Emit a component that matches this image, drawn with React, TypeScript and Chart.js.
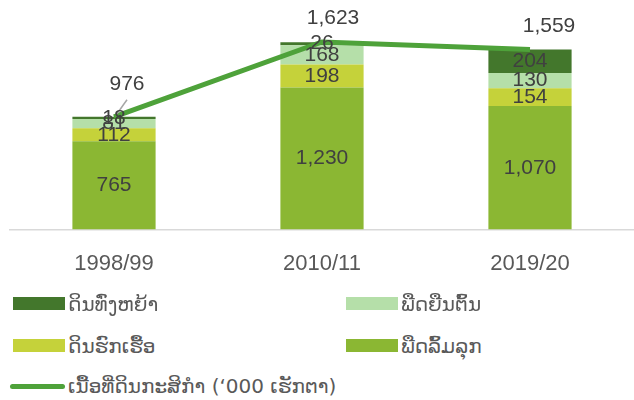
import React, { useEffect, useRef } from "react";
import { Chart, registerables } from "chart.js";

Chart.register(...registerables);

const categories = ["1998/99", "2010/11", "2019/20"];
const annualCrops = [765, 1230, 1070];
const fallowLand = [112, 198, 154];
const perennialCrops = [81, 168, 130];
const grassland = [18, 26, 204];
const totalArea = [976, 1623, 1559];

const seriesNames = {
  grassland: "ດິນທົ່ງຫຍ້າ",
  perennial: "ພືດຍືນຕົ້ນ",
  fallow: "ດິນຮົກເຮື້ອ",
  annual: "ພືດລົ້ມລຸກ",
  total: "ເນື້ອທີ່ດິນກະສິກຳ (‘000 ເຮັກຕາ)",
};

const COLORS = {
  grassland: "#43772C",
  perennial: "#B5DFA9",
  fallow: "#C5D23A",
  annual: "#8BB733",
  total: "#4EA23A",
};

// label placement offsets for the total line (style only)
const totalLabelOffsets = [
  { dx: 13, dy: -33 },
  { dx: 11, dy: -24 },
  { dx: 19, dy: -23 },
];

const fmt = (v: number) => v.toLocaleString("en-US");
const LABEL_FONT = "21px 'Liberation Sans', Arial, sans-serif";

const labelsPlugin = {
  id: "valueLabels",
  afterDatasetsDraw(chart: any) {
    const ctx = chart.ctx;
    ctx.save();
    ctx.font = LABEL_FONT;
    ctx.fillStyle = "#404040";
    ctx.textAlign = "center";
    ctx.textBaseline = "middle";
    chart.data.datasets.forEach((ds: any, di: number) => {
      const meta = chart.getDatasetMeta(di);
      if (ds.type === "line") {
        meta.data.forEach((pt: any, i: number) => {
          const off = totalLabelOffsets[i];
          const lx = pt.x + off.dx;
          const ly = pt.y + off.dy;
          if (i === 0) {
            ctx.save();
            ctx.strokeStyle = "#A6A6A6";
            ctx.lineWidth = 1.5;
            ctx.beginPath();
            ctx.moveTo(lx, ly + 16);
            ctx.lineTo(pt.x + 3, pt.y - 3);
            ctx.stroke();
            ctx.restore();
          }
          ctx.fillText(fmt(ds.data[i]), lx, ly);
        });
      } else {
        meta.data.forEach((el: any, i: number) => {
          const y = (el.y + el.base) / 2;
          ctx.fillText(fmt(ds.data[i]), el.x, y);
        });
      }
    });
    ctx.restore();
  },
};

export default function App() {
  const ref = useRef<HTMLCanvasElement>(null);

  useEffect(() => {
    if (!ref.current) return;
    const chart = new Chart(ref.current, {
      type: "bar",
      data: {
        labels: categories,
        datasets: [
          {
            type: "line",
            label: seriesNames.total,
            data: totalArea,
            borderColor: COLORS.total,
            backgroundColor: COLORS.total,
            borderWidth: 5,
            pointRadius: 0,
            tension: 0,
            stack: "total",
            order: 0,
          } as any,
          {
            label: seriesNames.annual,
            data: annualCrops,
            backgroundColor: COLORS.annual,
            stack: "bars",
            order: 1,
          },
          {
            label: seriesNames.fallow,
            data: fallowLand,
            backgroundColor: COLORS.fallow,
            stack: "bars",
            order: 1,
          },
          {
            label: seriesNames.perennial,
            data: perennialCrops,
            backgroundColor: COLORS.perennial,
            stack: "bars",
            order: 1,
          },
          {
            label: seriesNames.grassland,
            data: grassland,
            backgroundColor: COLORS.grassland,
            stack: "bars",
            order: 1,
          },
        ],
      },
      options: {
        responsive: false,
        animation: false,
        devicePixelRatio: 1,
        layout: { padding: { top: 10, left: 10, right: 0, bottom: 2 } },
        datasets: {
          bar: { barPercentage: 0.4, categoryPercentage: 1 },
        },
        plugins: {
          legend: { display: false },
          tooltip: { enabled: false },
        },
        scales: {
          x: {
            stacked: true,
            grid: { display: false, drawTicks: false },
            border: { display: true, color: "#D9D9D9", width: 1.5 },
            ticks: {
              color: "#595959",
              padding: 21,
              font: { family: "'Liberation Sans', Arial, sans-serif", size: 22 },
            },
          },
          y: {
            stacked: true,
            display: false,
            min: 0,
            max: 1900,
          },
        },
      },
      plugins: [labelsPlugin],
    });
    return () => chart.destroy();
  }, []);

  const legendText: React.CSSProperties = {
    fontFamily: "'DejaVu Sans', 'Liberation Sans', sans-serif",
    fontSize: 20,
    color: "#595959",
    whiteSpace: "nowrap",
  };
  const item = (
    left: number,
    centerY: number,
    color: string,
    text: string,
    isLine = false
  ) => (
    <div
      style={{
        position: "absolute",
        left,
        top: centerY - 15,
        height: 30,
        display: "flex",
        alignItems: "center",
      }}
    >
      <div
        style={
          isLine
            ? { width: 55, height: 5, borderRadius: 3, background: color, marginRight: 3 }
            : { width: 52, height: 13, background: color, marginRight: 3 }
        }
      />
      <span style={legendText}>{text}</span>
    </div>
  );

  return (
    <div
      style={{
        position: "absolute",
        left: 0,
        top: 0,
        width: 634,
        height: 400,
        background: "#fff",
        overflow: "hidden",
      }}
    >
      <canvas
        ref={ref}
        width={634}
        height={300}
        style={{ position: "absolute", left: 0, top: 0, width: 634, height: 300 }}
      />
      {item(13, 303.5, COLORS.grassland, seriesNames.grassland)}
      {item(346, 303.5, COLORS.perennial, seriesNames.perennial)}
      {item(13, 345.5, COLORS.fallow, seriesNames.fallow)}
      {item(346, 345.5, COLORS.annual, seriesNames.annual)}
      {item(10, 386, COLORS.total, seriesNames.total, true)}
    </div>
  );
}
